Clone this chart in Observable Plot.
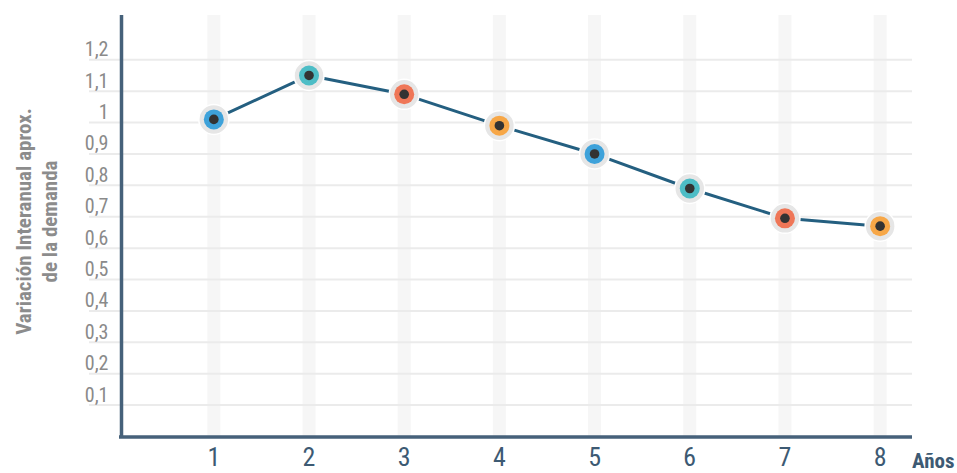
<!DOCTYPE html>
<html>
<head>
<meta charset="utf-8">
<script src="https://cdn.jsdelivr.net/npm/d3@7"></script>
<script src="https://cdn.jsdelivr.net/npm/@observablehq/plot@0.6"></script>
<style>
  html, body { margin: 0; padding: 0; background: #fff; }
  #chart svg { display: block; }
</style>
</head>
<body>
<div id="chart"></div>
<script>
// ---- Data ----
const years = [1, 2, 3, 4, 5, 6, 7, 8];
const variation = [1.01, 1.15, 1.09, 0.99, 0.90, 0.79, 0.695, 0.67];
const yTicks = [0.1, 0.2, 0.3, 0.4, 0.5, 0.6, 0.7, 0.8, 0.9, 1.0, 1.1, 1.2];
const yTitle = "Variación Interanual aprox.\nde la demanda";
const xTitle = "Años";

const data = years.map((year, i) => ({year, value: variation[i]}));

const FONT = "'Liberation Sans Narrow', 'Roboto Condensed', 'Roboto', sans-serif";
const dotColors = ["#3ea2da", "#4dbdc6", "#ef7657", "#f7a747"];
const xDomain = [0.03, 8.34];

const fmt = d => String(+d.toFixed(1)).replace(".", ",");

const chart = Plot.plot({
  width: 957,
  height: 473,
  marginLeft: 121,
  marginRight: 45,
  marginTop: 15,
  marginBottom: 37,
  style: {fontFamily: FONT, background: "#fff"},
  x: {domain: xDomain, axis: null},
  y: {domain: [0, 1.341], axis: null},
  color: {type: "ordinal", domain: [1, 2, 3, 0], range: dotColors},
  marks: [
    // vertical light bands at each year
    Plot.ruleX(years, {stroke: "#f6f6f6", strokeWidth: 13}),
    // horizontal gridlines, extending under the tick labels
    Plot.ruleY(yTicks, {stroke: "#ebebeb", strokeWidth: 2, insetLeft: -32}),
    // y tick labels (above each gridline)
    Plot.axisY(yTicks, {
      anchor: "left", tickSize: 0, tickPadding: 13, dy: -10,
      tickFormat: fmt, fontSize: 20, fill: "#8a8a8a", label: null
    }),
    // x tick labels
    Plot.axisX(years, {
      anchor: "bottom", tickSize: 0, tickPadding: 11,
      tickFormat: d => String(d), fontSize: 26, fill: "#3d5a73", label: null
    }),
    // axis lines
    Plot.ruleY([0], {stroke: "#46617a", strokeWidth: 3.5, insetLeft: -2, dy: 0.5}),
    Plot.ruleX([xDomain[0]], {stroke: "#46617a", strokeWidth: 3.5, insetBottom: -2}),
    // line
    Plot.line(data, {x: "year", y: "value", stroke: "#245f80", strokeWidth: 3}),
    // markers
    Plot.dot(data, {x: "year", y: "value", r: 15, fill: "#e6e6e6", stroke: "#fff", strokeWidth: 1.5}),
    Plot.dot(data, {x: "year", y: "value", r: 10, fill: d => d.year % 4}),
    Plot.dot(data, {x: "year", y: "value", r: 4.8, fill: "#333"}),
    // axis titles
    Plot.text([xTitle], {
      frameAnchor: "bottom-right", dx: 42, dy: 31, textAnchor: "end",
      lineAnchor: "bottom", fontSize: 21, fontWeight: "bold", fill: "#3d5a73"
    }),
    Plot.text([yTitle], {
      frameAnchor: "left", dx: -86, dy: -4.5, rotate: -90, textAnchor: "middle",
      lineAnchor: "middle", lineHeight: 1.25, fontSize: 21, fontWeight: "bold", fill: "#8c8c8c"
    })
  ]
});

document.getElementById("chart").appendChild(chart);
</script>
</body>
</html>
